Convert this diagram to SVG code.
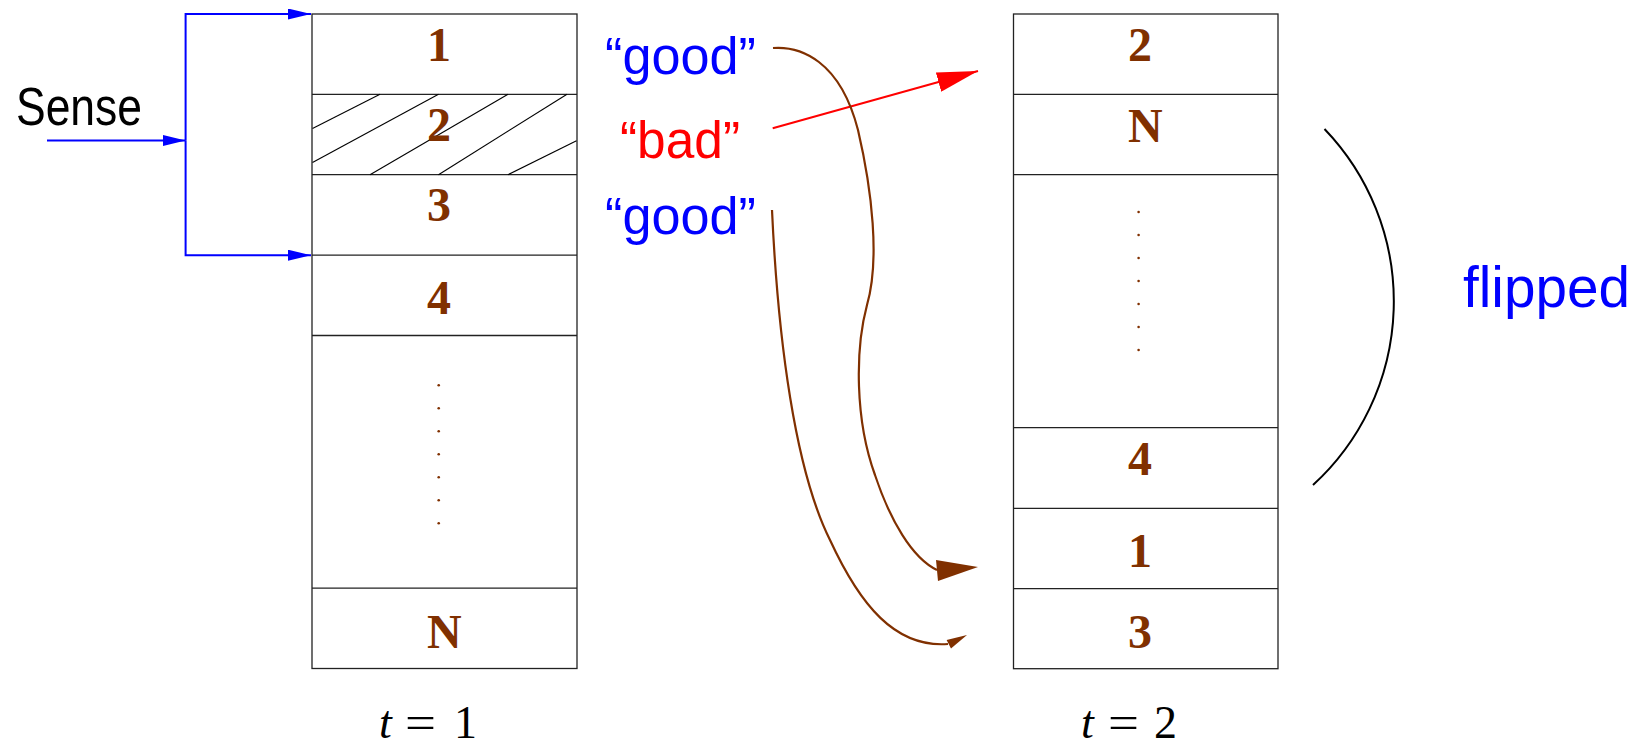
<svg xmlns="http://www.w3.org/2000/svg" width="1638" height="745" viewBox="0 0 1638 745">
<style>
.box{fill:none;stroke:#222;stroke-width:1.3}
.sep{stroke:#222;stroke-width:1.3}
.hatch{stroke:#000;stroke-width:1.1}
.num{font-family:"Liberation Serif","Times New Roman",serif;font-weight:bold;font-size:48px;fill:#803000}
.dot{fill:#803000}
.sans{font-family:"Liberation Sans",Arial,sans-serif}
.blue{fill:#0000ff}
.red{fill:#ff0000}
.bl{fill:none;stroke:#0000ff;stroke-width:2}
.rl{fill:none;stroke:#ff0000;stroke-width:2}
.br{fill:none;stroke:#803000;stroke-width:2.2}
.math{font-family:"Liberation Serif","Times New Roman",serif;font-size:46px;fill:#000}
</style>
<defs>
<marker id="ab" markerUnits="userSpaceOnUse" markerWidth="23" markerHeight="11" refX="23" refY="5.5" orient="auto"><path d="M0,0 L23,5.5 L0,11 z" fill="#0000ff"/></marker>
<marker id="ar" markerUnits="userSpaceOnUse" markerWidth="41" markerHeight="20" refX="41" refY="10" orient="auto"><path d="M0,0 L41,10 L0,20 z" fill="#ff0000"/></marker>
</defs>

<g id="stack-t1">
<rect class="box" x="312" y="14" width="265" height="654.5"/>
<line class="sep" x1="312" y1="94.3" x2="577" y2="94.3"/>
<line class="sep" x1="312" y1="174.7" x2="577" y2="174.7"/>
<line class="sep" x1="312" y1="255.2" x2="577" y2="255.2"/>
<line class="sep" x1="312" y1="335.5" x2="577" y2="335.5"/>
<line class="sep" x1="312" y1="588.2" x2="577" y2="588.2"/>
<g id="hatch">
<line class="hatch" x1="312.5" y1="128.5" x2="380" y2="94.3"/>
<line class="hatch" x1="312.5" y1="162.5" x2="438.5" y2="94.3"/>
<line class="hatch" x1="370" y1="174.7" x2="508" y2="94.3"/>
<line class="hatch" x1="438.5" y1="174.7" x2="567" y2="94.3"/>
<line class="hatch" x1="508" y1="174.7" x2="576.5" y2="140.7"/>
</g>
<text class="num" x="427" y="61">1</text>
<text class="num" x="427" y="141">2</text>
<text class="num" x="427" y="221">3</text>
<text class="num" x="427" y="314">4</text>
<g id="dots-t1">
<circle class="dot" cx="438.7" cy="385.3" r="1.3"/>
<circle class="dot" cx="438.7" cy="408.3" r="1.3"/>
<circle class="dot" cx="438.7" cy="431.3" r="1.3"/>
<circle class="dot" cx="438.7" cy="454.3" r="1.3"/>
<circle class="dot" cx="438.7" cy="477.3" r="1.3"/>
<circle class="dot" cx="438.7" cy="500.3" r="1.3"/>
<circle class="dot" cx="438.7" cy="523.3" r="1.3"/>
</g>
<text class="num" x="427" y="648">N</text>
</g>

<g id="stack-t2">
<rect class="box" x="1013.5" y="14" width="264.5" height="654.7"/>
<line class="sep" x1="1013.5" y1="94.3" x2="1278" y2="94.3"/>
<line class="sep" x1="1013.5" y1="174.7" x2="1278" y2="174.7"/>
<line class="sep" x1="1013.5" y1="427.7" x2="1278" y2="427.7"/>
<line class="sep" x1="1013.5" y1="508.3" x2="1278" y2="508.3"/>
<line class="sep" x1="1013.5" y1="588.7" x2="1278" y2="588.7"/>
<text class="num" x="1128" y="61">2</text>
<text class="num" x="1128" y="142">N</text>
<g id="dots-t2">
<circle class="dot" cx="1138.6" cy="212" r="1.3"/>
<circle class="dot" cx="1138.6" cy="235" r="1.3"/>
<circle class="dot" cx="1138.6" cy="258" r="1.3"/>
<circle class="dot" cx="1138.6" cy="281" r="1.3"/>
<circle class="dot" cx="1138.6" cy="304" r="1.3"/>
<circle class="dot" cx="1138.6" cy="327" r="1.3"/>
<circle class="dot" cx="1138.6" cy="350" r="1.3"/>
</g>
<text class="num" x="1128" y="475">4</text>
<text class="num" x="1128" y="567">1</text>
<text class="num" x="1128" y="648">3</text>
</g>

<g id="sense">
<text class="sans" x="16" y="125" font-size="54" textLength="126" lengthAdjust="spacingAndGlyphs">Sense</text>
</g>

<g id="labels">
<text class="sans blue" x="605" y="74" font-size="51" textLength="151" lengthAdjust="spacingAndGlyphs">“good”</text>
<text class="sans red" x="620" y="158" font-size="51" textLength="120" lengthAdjust="spacingAndGlyphs">“bad”</text>
<text class="sans blue" x="605" y="234" font-size="51" textLength="151" lengthAdjust="spacingAndGlyphs">“good”</text>
</g>

<g id="flipped">
<path d="M 1324.5 129 A 249 249 0 0 1 1313 485" fill="none" stroke="#000" stroke-width="2"/>
<text class="sans blue" x="1463" y="307" font-size="58" textLength="167" lengthAdjust="spacingAndGlyphs">flipped</text>
</g>

<g id="time-labels">
<text class="math" x="379" y="738" font-style="italic">t</text>
<text class="math" x="405" y="738" textLength="31" lengthAdjust="spacingAndGlyphs">=</text>
<text class="math" x="454" y="738">1</text>
<text class="math" x="1081" y="738" font-style="italic">t</text>
<text class="math" x="1108" y="738" textLength="31" lengthAdjust="spacingAndGlyphs">=</text>
<text class="math" x="1154" y="738">2</text>
</g>

<g id="connectors">
<path class="bl" d="M 47 140.5 H 185.6" marker-end="url(#ab)"/>
<path class="bl" d="M 185.6 140.5 V 14 H 311" marker-end="url(#ab)"/>
<path class="bl" d="M 185.6 140.5 V 255.2 H 311" marker-end="url(#ab)"/>
<path class="rl" d="M 772.7 128.3 L 978 71" marker-end="url(#ar)"/>
<path class="br" d="M 773 48 C 800 46, 840 60, 858 130 C 872 190, 880 260, 867 305 C 855 350, 855 420, 875 475 C 890 520, 912 558, 937 570"/>
<polygon points="978,567 936,560 938,581" fill="#803000"/>
<path class="br" d="M 772 210 C 778 340, 795 470, 830 540 C 860 605, 895 648, 948 644"/>
<polygon points="967,635 946.6,640 951,648.6" fill="#803000"/>
</g>
</svg>
